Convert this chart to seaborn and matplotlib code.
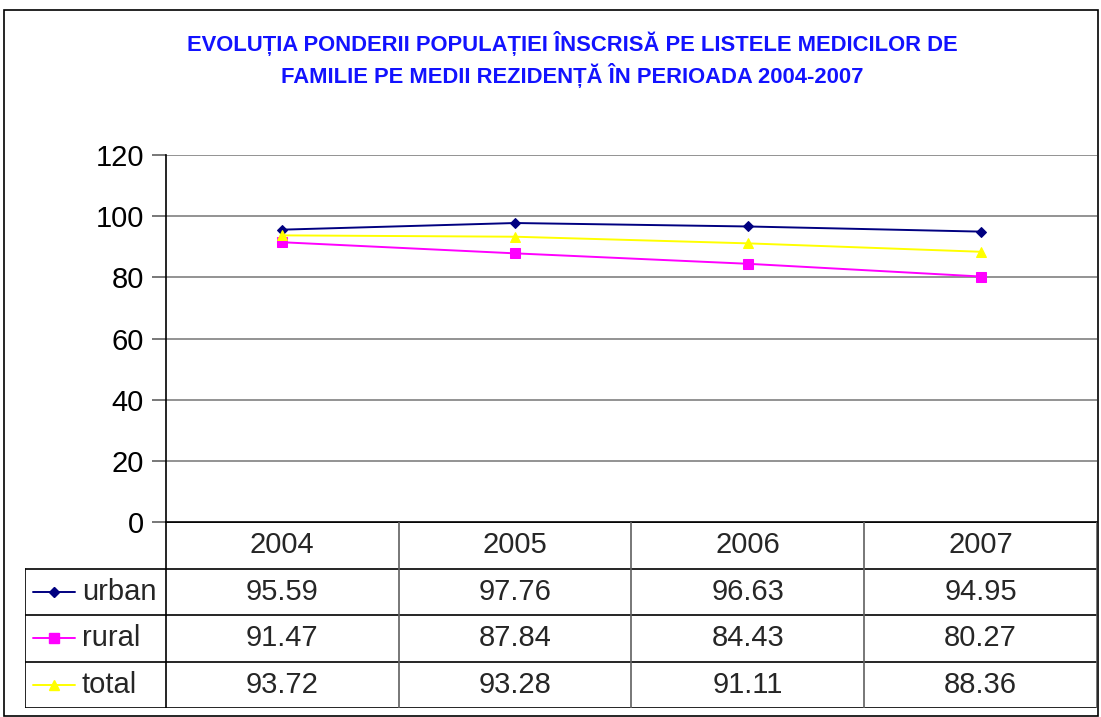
import matplotlib
matplotlib.use("Agg")
import matplotlib.pyplot as plt
import pandas as pd
import seaborn as sns
from matplotlib.lines import Line2D
from matplotlib.patches import Rectangle

years = ["2004", "2005", "2006", "2007"]
series_names = ["urban", "rural", "total"]
urban = [95.59, 97.76, 96.63, 94.95]
rural = [91.47, 87.84, 84.43, 80.27]
total = [93.72, 93.28, 91.11, 88.36]
y_ticks = [0, 20, 40, 60, 80, 100, 120]

title = ("EVOLUȚIA PONDERII POPULAȚIEI ÎNSCRISĂ PE LISTELE MEDICILOR DE\n"
         "FAMILIE PE MEDII REZIDENȚĂ ÎN PERIOADA 2004-2007")

colors = {"urban": "#000080", "rural": "#FF00FF", "total": "#FFFF00"}
markers = {"urban": "D", "rural": "s", "total": "^"}
msize = {"urban": 5.5, "rural": 6.5, "total": 7.5}

frame = pd.DataFrame({"year": years, "urban": urban, "rural": rural, "total": total})
long = frame.melt(id_vars="year", var_name="series", value_name="value")
long["pos"] = long["year"].map({y: i for i, y in enumerate(years)})

sns.set_theme(style="white")
plt.rcParams["font.family"] = ["Liberation Sans", "DejaVu Sans"]

W, H = 1101, 717
fig = plt.figure(figsize=(W / 100, H / 100), dpi=100)


def fx(px):
    return px / W


def fy(py):
    return 1 - py / H


# outer chart frame
fig.patches.append(Rectangle((fx(4), fy(716)), fx(1098) - fx(4), fy(10) - fy(716),
                             transform=fig.transFigure, fill=False, edgecolor="black",
                             linewidth=1.2))

fig.text(0.52, fy(60), title, ha="center", va="center", color="#1212FF",
         fontsize=15.8, fontweight="bold", linespacing=1.35)

ax = fig.add_axes([fx(166), fy(522), fx(1097) - fx(166), fy(155) - fy(522)])
for name in series_names:
    sub = long[long["series"] == name]
    sns.lineplot(data=sub, x="pos", y="value", ax=ax, color=colors[name],
                 marker=markers[name], markersize=msize[name], markeredgecolor=colors[name],
                 linewidth=1.4, legend=False)

ax.set_xlim(-0.5, len(years) - 0.5)
ax.set_ylim(0, 120)
ax.set_yticks(y_ticks)
ax.set_yticklabels([str(t) for t in y_ticks], fontsize=21)
ax.set_xticks([])
ax.set_xlabel("")
ax.set_ylabel("")
for t in y_ticks[1:]:
    ax.axhline(t, color="#808080", linewidth=1.2, zorder=0)
for side in ["top", "right"]:
    ax.spines[side].set_visible(False)
ax.spines["left"].set_color("black")
ax.spines["bottom"].set_color("black")
ax.spines["left"].set_linewidth(1.2)
ax.spines["bottom"].set_linewidth(1.2)
ax.tick_params(axis="y", direction="out", length=10, width=1.2, color="#606060",
               pad=6, left=True, labelcolor="black")
ax.patch.set_alpha(0)

# data table under the plot
label_w = 141 / 233
tax = fig.add_axes([fx(25), fy(708), fx(1097) - fx(25), fy(522) - fy(708)])
x0 = -0.5 - label_w
x1 = len(years) - 0.5
tax.set_xlim(x0, x1)
tax.set_ylim(0, 4)
tax.axis("off")

lw = 1.2
tax.plot([-0.5, x1], [4, 4], color="black", lw=lw)
for yy in [3, 2, 1, 0]:
    tax.plot([x0, x1], [yy, yy], color="black", lw=lw)
tax.plot([x0, x0], [0, 3], color="black", lw=lw)
tax.plot([-0.5, -0.5], [0, 4], color="black", lw=lw)
for i in range(1, len(years)):
    tax.plot([i - 0.5, i - 0.5], [0, 4], color="#606060", lw=lw)
tax.plot([x1, x1], [0, 4], color="#606060", lw=lw)

for i, y in enumerate(years):
    tax.text(i, 3.5, y, ha="center", va="center", fontsize=21)

values = {"urban": urban, "rural": rural, "total": total}
for r, name in enumerate(series_names):
    yc = 2.5 - r
    for i, v in enumerate(values[name]):
        tax.text(i, yc, f"{v:.2f}", ha="center", va="center", fontsize=21)
    lx0 = x0 + 8 / 233
    lx1 = x0 + 50 / 233
    tax.add_line(Line2D([lx0, lx1], [yc, yc], color=colors[name], lw=1.4))
    tax.plot([(lx0 + lx1) / 2], [yc], marker=markers[name], color=colors[name],
             markersize=msize[name], markeredgecolor=colors[name])
    tax.text(x0 + 57 / 233, yc, name, ha="left", va="center", fontsize=21)

fig.savefig("out.png", dpi=100)
